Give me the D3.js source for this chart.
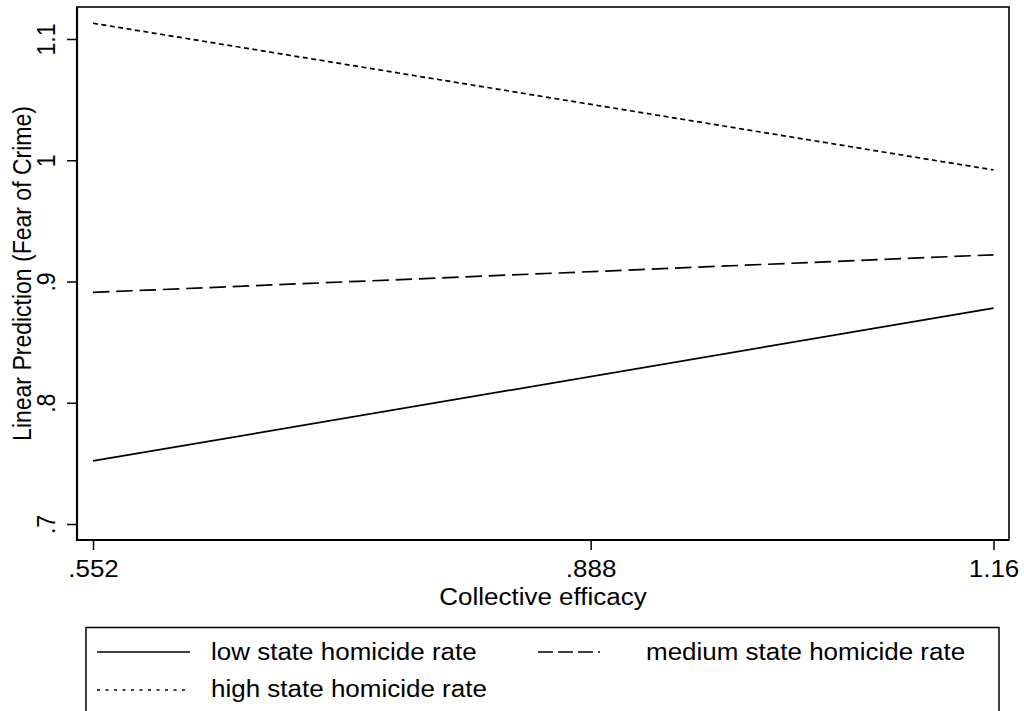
<!DOCTYPE html>
<html>
<head>
<meta charset="utf-8">
<script src="https://cdn.jsdelivr.net/npm/d3@7"></script>
<style>
  html, body { margin: 0; padding: 0; background: #fff; }
  svg { display: block; font-family: "Liberation Sans", Arial, Helvetica, sans-serif; }
</style>
</head>
<body>
<script>
// Predicted fear of crime across collective efficacy, by state homicide rate
const efficacy = [0.552, 1.16];
const lowRate = [0.752, 0.878];
const mediumRate = [0.891, 0.922];
const highRate = [1.113, 0.992];

const xTicks = [0.552, 0.888, 1.16];
const xTickLabels = [".552", ".888", "1.16"];
const yTicks = [0.7, 0.8, 0.9, 1.0, 1.1];
const yTickLabels = [".7", ".8", ".9", "1", "1.1"];

const seriesNames = ["low state homicide rate", "medium state homicide rate", "high state homicide rate"];

const W = 1024, H = 711;
const frame = { left: 77, top: 7, right: 1009, bottom: 540 };
const stretch = 1.13;      // horizontal glyph stretch of the text
const fontSize = 23;

const svg = d3.select("body").append("svg")
  .attr("width", W).attr("height", H);

svg.append("rect").attr("width", W).attr("height", H).attr("fill", "#fff");

const x = d3.scaleLinear().domain([0.552, 1.16]).range([93, 993.5]);
const y = d3.scaleLinear().domain([0.7, 1.1]).range([524, 39]);

// plot region border
svg.append("rect")
  .attr("x", frame.left).attr("y", frame.top)
  .attr("width", frame.right - frame.left).attr("height", frame.bottom - frame.top)
  .attr("fill", "none").attr("stroke", "#000").attr("stroke-width", 1.6);
svg.append("path")
  .attr("d", `M${frame.left},${frame.top}V${frame.bottom}H${frame.right}`)
  .attr("fill", "none").attr("stroke", "#000").attr("stroke-width", 2.2);

// y axis
const yAxis = svg.append("g")
  .attr("transform", `translate(${frame.left},0)`)
  .call(d3.axisLeft(y).tickValues(yTicks).tickSize(10).tickSizeOuter(0)
    .tickFormat((d, i) => yTickLabels[i]));
yAxis.select(".domain").remove();
yAxis.selectAll(".tick line").attr("stroke", "#000").attr("stroke-width", 1.5);
yAxis.selectAll(".tick text")
  .attr("x", null).attr("dy", null).attr("y", 0)
  .attr("text-anchor", "middle")
  .attr("fill", "#000")
  .style("font-size", fontSize + "px")
  .attr("transform", `translate(-22,0) scale(${stretch},1) rotate(-90)`);

// x axis
const xAxis = svg.append("g")
  .attr("transform", `translate(0,${frame.bottom})`)
  .call(d3.axisBottom(x).tickValues(xTicks).tickSize(10).tickSizeOuter(0)
    .tickFormat((d, i) => xTickLabels[i]));
xAxis.select(".domain").remove();
xAxis.selectAll(".tick line").attr("stroke", "#000").attr("stroke-width", 1.5);
xAxis.selectAll(".tick text")
  .attr("y", 0).attr("dy", null)
  .attr("text-anchor", "middle")
  .attr("fill", "#000")
  .style("font-size", fontSize + "px")
  .attr("transform", `translate(0,37) scale(${stretch},1)`);

// axis titles
svg.append("text")
  .attr("text-anchor", "middle")
  .style("font-size", fontSize + "px")
  .attr("transform", `translate(${(frame.left + frame.right) / 2},605) scale(${stretch},1)`)
  .text("Collective efficacy");

svg.append("text")
  .attr("text-anchor", "middle")
  .style("font-size", fontSize + "px")
  .attr("transform", `translate(31,${(frame.top + frame.bottom) / 2}) scale(${stretch},1) rotate(-90)`)
  .text("Linear Prediction (Fear of Crime)");

// prediction lines
const series = [
  { name: seriesNames[0], values: lowRate, dash: null, legendDash: null },
  { name: seriesNames[1], values: mediumRate, dash: "16.5,6.8", legendDash: "15,5" },
  { name: seriesNames[2], values: highRate, dash: "5,3.5", legendDash: "3,5.5" }
];

const line = d3.line().x(d => x(d[0])).y(d => y(d[1]));

svg.append("g").selectAll("path")
  .data(series)
  .join("path")
  .attr("d", s => line(efficacy.map((e, i) => [e, s.values[i]])))
  .attr("fill", "none")
  .attr("stroke", "#000")
  .attr("stroke-width", 1.7)
  .attr("stroke-dasharray", s => s.dash);

// legend
const legend = svg.append("g");
legend.append("rect")
  .attr("x", 86).attr("y", 627.5)
  .attr("width", 913).attr("height", 100)
  .attr("fill", "#fff").attr("stroke", "#000").attr("stroke-width", 1.5);

const legendPos = [
  { x1: 97, x2: 190, ly: 652, tx: 211, ty: 660 },
  { x1: 538, x2: 600, ly: 652, tx: 646, ty: 660 },
  { x1: 97, x2: 190, ly: 690, tx: 211, ty: 697 }
];

series.forEach((s, i) => {
  const p = legendPos[i];
  legend.append("line")
    .attr("x1", p.x1).attr("x2", p.x2).attr("y1", p.ly).attr("y2", p.ly)
    .attr("stroke", "#000").attr("stroke-width", 1.7)
    .attr("stroke-dasharray", s.legendDash);
  legend.append("text")
    .style("font-size", fontSize + "px")
    .attr("transform", `translate(${p.tx},${p.ty}) scale(${stretch},1)`)
    .text(s.name);
});
</script>
</body>
</html>
